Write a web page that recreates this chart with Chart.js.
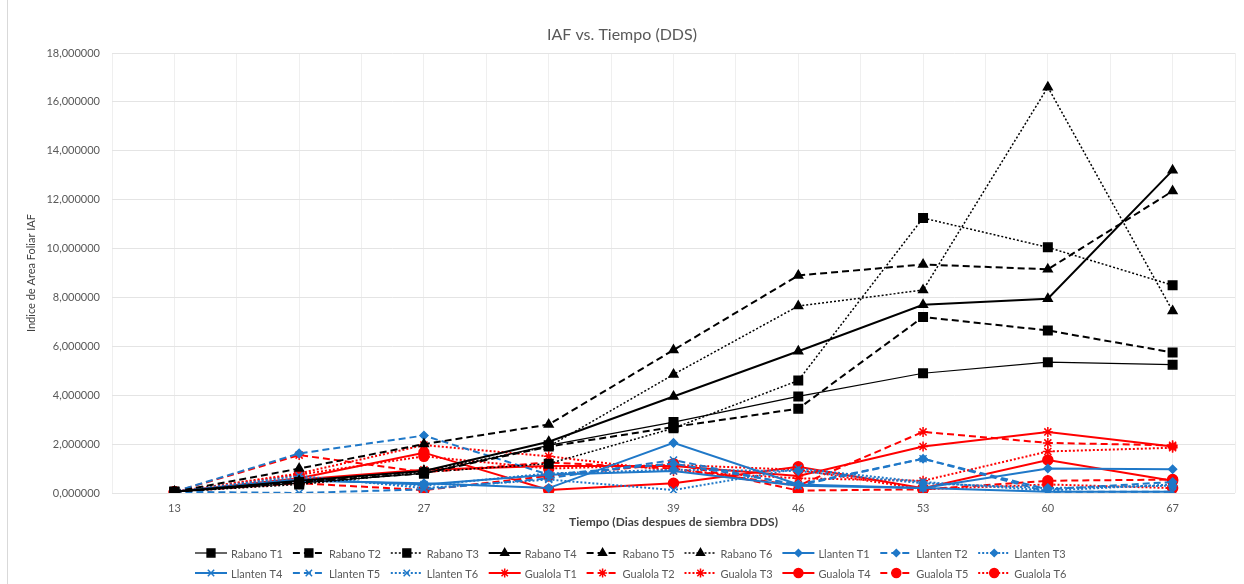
<!DOCTYPE html>
<html>
<head>
<meta charset="utf-8">
<script src="https://cdn.jsdelivr.net/npm/chart.js"></script>
<style>
  body { margin: 0; background: #fff; }
  #wrap { position: relative; width: 1244px; height: 584px; }
  #edge { position: absolute; left: 7px; top: 0; width: 1px; height: 584px; background: #d9d9d9; }
</style>
</head>
<body>
<div id="wrap">
  <div id="edge"></div>
  <canvas id="iafChart" width="1244" height="584"></canvas>
</div>
<script>
// dias despues de siembra
var dias = ['13', '20', '27', '32', '39', '46', '53', '60', '67'];

var rabanoT1 = [0.05, 0.40, 0.80, 1.95, 2.90, 3.95, 4.90, 5.35, 5.25];
var rabanoT2 = [0.05, 0.45, 0.80, 1.90, 2.70, 3.45, 7.20, 6.65, 5.75];
var rabanoT3 = [0.05, 0.35, 0.85, 1.20, 2.65, 4.60, 11.25, 10.05, 8.50];
var rabanoT4 = [0.05, 0.50, 0.90, 2.10, 3.95, 5.80, 7.70, 7.95, 13.20];
var rabanoT5 = [0.05, 1.00, 2.00, 2.80, 5.85, 8.90, 9.35, 9.15, 12.35];
var rabanoT6 = [0.05, 0.45, 0.90, 1.90, 4.85, 7.65, 8.30, 16.60, 7.45];

var llantenT1 = [0.05, 0.50, 0.40, 0.20, 2.05, 0.35, 0.20, 1.00, 0.97];
var llantenT2 = [0.05, 1.62, 2.35, 0.75, 1.20, 0.35, 1.40, 0.15, 0.45];
var llantenT3 = [0.05, 0.60, 0.30, 0.80, 0.95, 0.90, 0.40, 0.20, 0.30];
var llantenT4 = [0.05, 0.55, 0.35, 0.75, 0.90, 0.30, 0.20, 0.05, 0.05];
var llantenT5 = [0.05, 0.00, 0.15, 0.60, 1.35, 0.30, 1.40, 0.05, 0.05];
var llantenT6 = [0.05, 0.70, 0.20, 0.55, 0.12, 1.00, 0.45, 0.10, 0.35];

var gualolaT1 = [0.05, 0.55, 0.95, 1.10, 1.10, 0.70, 1.90, 2.50, 1.90];
var gualolaT2 = [0.05, 1.55, 0.85, 1.25, 1.00, 0.30, 2.50, 2.05, 1.95];
var gualolaT3 = [0.05, 0.80, 1.96, 1.50, 0.90, 0.60, 0.50, 1.70, 1.85];
var gualolaT4 = [0.05, 0.60, 1.65, 0.12, 0.40, 1.07, 0.20, 1.35, 0.50];
var gualolaT5 = [0.05, 0.40, 0.12, 0.70, 1.20, 0.10, 0.15, 0.50, 0.55];
var gualolaT6 = [0.05, 0.75, 1.50, 1.00, 1.15, 0.95, 0.15, 0.35, 0.20];

var yTicks = [0, 2, 4, 6, 8, 10, 12, 14, 16, 18];

var NEGRO = '#000000', AZUL = '#1f78c8', ROJO = '#ff0000';
var DASH = [7, 4], DOT = [2, 2];
var fuente = 'Lato, "Noto Sans", sans-serif';
var gris = '#595959';

function serie(nombre, valores, color, dash, punto, radio, ancho, relleno) {
  return {
    label: nombre,
    data: valores.map(function (v, i) { return { x: i, y: v }; }),
    borderColor: color,
    backgroundColor: relleno ? color : 'rgba(0,0,0,0)',
    borderWidth: ancho,
    borderDash: dash,
    pointStyle: punto,
    pointRadius: radio,
    pointBorderColor: color,
    pointBackgroundColor: relleno ? color : 'rgba(0,0,0,0)',
    pointBorderWidth: 1.5,
    tension: 0,
    fill: false
  };
}

var datasets = [
  serie('Rabano T1', rabanoT1, NEGRO, [], 'rect', 6, 1.2, true),
  serie('Rabano T2', rabanoT2, NEGRO, DASH, 'rect', 6, 2, true),
  serie('Rabano T3', rabanoT3, NEGRO, DOT, 'rect', 6, 1.5, true),
  serie('Rabano T4', rabanoT4, NEGRO, [], 'triangle', 5, 2, true),
  serie('Rabano T5', rabanoT5, NEGRO, DASH, 'triangle', 5, 2, true),
  serie('Rabano T6', rabanoT6, NEGRO, DOT, 'triangle', 5, 1.5, true),
  serie('Llanten T1', llantenT1, AZUL, [], 'rectRot', 4, 2, true),
  serie('Llanten T2', llantenT2, AZUL, DASH, 'rectRot', 4, 2, true),
  serie('Llanten T3', llantenT3, AZUL, DOT, 'rectRot', 4, 2, true),
  serie('Llanten T4', llantenT4, AZUL, [], 'crossRot', 5, 2, false),
  serie('Llanten T5', llantenT5, AZUL, DASH, 'crossRot', 5, 2, false),
  serie('Llanten T6', llantenT6, AZUL, DOT, 'crossRot', 5, 2, false),
  serie('Gualola T1', gualolaT1, ROJO, [], 'star', 5, 2, false),
  serie('Gualola T2', gualolaT2, ROJO, DASH, 'star', 5, 2, false),
  serie('Gualola T3', gualolaT3, ROJO, DOT, 'star', 5, 2, false),
  serie('Gualola T4', gualolaT4, ROJO, [], 'circle', 5, 2, true),
  serie('Gualola T5', gualolaT5, ROJO, DASH, 'circle', 5, 2, true),
  serie('Gualola T6', gualolaT6, ROJO, DOT, 'circle', 5, 2, true)
];

// titulo y leyenda dibujados a mano
var extras = {
  id: 'extras',
  afterDraw: function (chart) {
    var ctx = chart.ctx;
    ctx.save();
    ctx.fillStyle = gris;
    ctx.font = '16px ' + fuente;
    ctx.textAlign = 'center';
    ctx.textBaseline = 'middle';
    ctx.fillText('IAF vs. Tiempo (DDS)', 622, 35);

    ctx.font = '11px ' + fuente;
    ctx.textAlign = 'left';
    chart.data.datasets.forEach(function (ds, i) {
      var col = i % 9, fila = Math.floor(i / 9);
      var x = 195 + col * 97.9;
      var y = 553 + fila * 20;
      ctx.save();
      ctx.strokeStyle = ds.borderColor;
      ctx.lineWidth = ds.borderWidth;
      ctx.setLineDash(ds.borderDash);
      ctx.beginPath();
      ctx.moveTo(x, y);
      ctx.lineTo(x + 32, y);
      ctx.stroke();
      ctx.setLineDash([]);
      ctx.fillStyle = ds.pointBackgroundColor;
      ctx.strokeStyle = ds.pointBorderColor;
      ctx.lineWidth = 1.5;
      Chart.helpers.drawPoint(ctx, { pointStyle: ds.pointStyle, radius: ds.pointRadius - 0.5, rotation: 0, borderWidth: 1.5 }, x + 16, y);
      ctx.restore();
      ctx.fillStyle = gris;
      ctx.fillText(ds.label, x + 36, y + 1);
    });
    ctx.restore();
  }
};

new Chart(document.getElementById('iafChart'), {
  type: 'line',
  data: { datasets: datasets },
  options: {
    responsive: false,
    animation: false,
    layout: { padding: { top: 53, bottom: 51, left: 0, right: 4 } },
    plugins: {
      legend: { display: false },
      title: { display: false },
      tooltip: { enabled: false }
    },
    scales: {
      x: {
        type: 'linear',
        min: -0.5,
        max: 8.5,
        afterFit: function (s) { s.height = 40; },
        afterBuildTicks: function (s) {
          var t = [];
          for (var i = -1; i <= 17; i++) t.push({ value: i / 2 });
          s.ticks = t;
        },
        grid: { color: '#efefef', drawTicks: false },
        border: { display: false },
        ticks: {
          autoSkip: false,
          maxRotation: 0,
          padding: 9,
          color: gris,
          font: { size: 11, family: fuente },
          callback: function (v) { return Number.isInteger(v) ? dias[v] : ''; }
        },
        title: {
          display: true,
          text: 'Tiempo (Dias despues de siembra DDS)',
          color: '#404040',
          font: { size: 12, weight: 'bold', family: fuente },
          padding: { top: 0, bottom: 4 }
        }
      },
      y: {
        min: 0,
        max: 18,
        afterFit: function (s) { s.width = 112; },
        afterBuildTicks: function (s) {
          s.ticks = yTicks.map(function (v) { return { value: v }; });
        },
        grid: { color: '#e4e4e4', drawTicks: false },
        border: { display: false },
        ticks: {
          padding: 12,
          color: gris,
          font: { size: 11, family: fuente },
          callback: function (v) { return v.toFixed(6).replace('.', ','); }
        },
        title: {
          display: true,
          text: 'Indice de Area Foliar IAF',
          color: '#404040',
          font: { size: 11, family: fuente },
          padding: { top: 25, bottom: 0 }
        }
      }
    }
  },
  plugins: [extras]
});
</script>
</body>
</html>
